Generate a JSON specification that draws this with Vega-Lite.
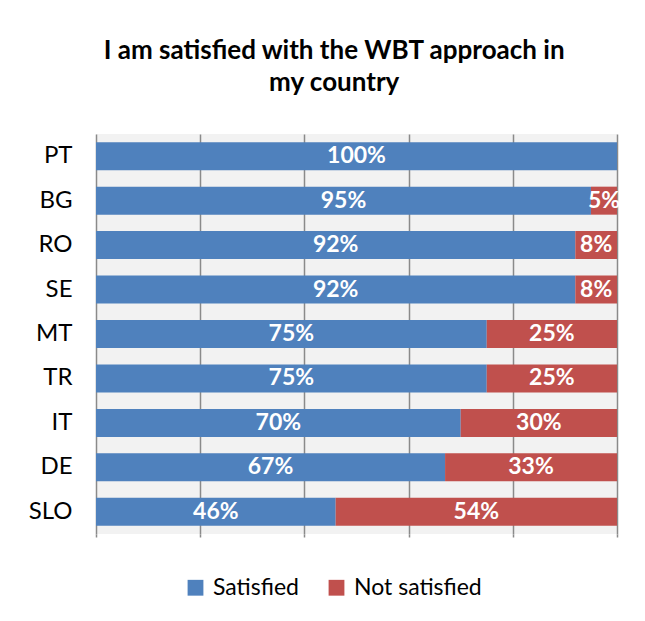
{
  "$schema": "https://vega.github.io/schema/vega-lite/v6.json",
  "width": 521,
  "height": 400,
  "autosize": {"type": "none"},
  "padding": {"left": 96, "top": 134, "right": 28, "bottom": 87},
  "background": "white",
  "title": {
    "text": ["I am satisfied with the WBT approach in", "my country"],
    "font": "Lato",
    "fontSize": 26,
    "fontWeight": "bold",
    "color": "black",
    "lineHeight": 32,
    "anchor": "middle",
    "frame": "bounds",
    "offset": 38,
    "dx": 10
  },
  "data": {
    "values": [
      {"country": "PT", "response": "Satisfied", "ord": 1, "value": 1.00},
      {"country": "PT", "response": "Not satisfied", "ord": 2, "value": 0},
      {"country": "BG", "response": "Satisfied", "ord": 1, "value": 0.95},
      {"country": "BG", "response": "Not satisfied", "ord": 2, "value": 0.05},
      {"country": "RO", "response": "Satisfied", "ord": 1, "value": 0.92},
      {"country": "RO", "response": "Not satisfied", "ord": 2, "value": 0.08},
      {"country": "SE", "response": "Satisfied", "ord": 1, "value": 0.92},
      {"country": "SE", "response": "Not satisfied", "ord": 2, "value": 0.08},
      {"country": "MT", "response": "Satisfied", "ord": 1, "value": 0.75},
      {"country": "MT", "response": "Not satisfied", "ord": 2, "value": 0.25},
      {"country": "TR", "response": "Satisfied", "ord": 1, "value": 0.75},
      {"country": "TR", "response": "Not satisfied", "ord": 2, "value": 0.25},
      {"country": "IT", "response": "Satisfied", "ord": 1, "value": 0.70},
      {"country": "IT", "response": "Not satisfied", "ord": 2, "value": 0.30},
      {"country": "DE", "response": "Satisfied", "ord": 1, "value": 0.67},
      {"country": "DE", "response": "Not satisfied", "ord": 2, "value": 0.33},
      {"country": "SLO", "response": "Satisfied", "ord": 1, "value": 0.46},
      {"country": "SLO", "response": "Not satisfied", "ord": 2, "value": 0.54}
    ]
  },
  "transform": [
    {"stack": "value", "groupby": ["country"], "sort": [{"field": "ord", "order": "ascending"}], "as": ["x0", "x1"]},
    {"calculate": "(datum.x0 + datum.x1) / 2", "as": "xmid"}
  ],
  "encoding": {
    "y": {
      "field": "country",
      "type": "nominal",
      "sort": ["PT", "BG", "RO", "SE", "MT", "TR", "IT", "DE", "SLO"],
      "scale": {"paddingInner": 0.37, "paddingOuter": 0.185},
      "axis": {
        "title": null,
        "labelFont": "Lato",
        "labelFontSize": 24,
        "labelColor": "black",
        "labelPadding": 24,
        "ticks": false,
        "domain": false
      }
    }
  },
  "layer": [
    {
      "mark": {"type": "bar"},
      "encoding": {
        "x": {
          "field": "x0",
          "type": "quantitative",
          "scale": {"domain": [0, 1], "nice": false},
          "axis": {
            "title": null,
            "labels": false,
            "domain": false,
            "values": [0, 0.2, 0.4, 0.6, 0.8, 1],
            "grid": true,
            "gridColor": "#8a8a8a",
            "gridWidth": 1.5,
            "ticks": true,
            "tickColor": "#8a8a8a",
            "tickWidth": 1.5,
            "tickSize": 3
          }
        },
        "x2": {"field": "x1"},
        "color": {
          "field": "response",
          "type": "nominal",
          "sort": ["Satisfied", "Not satisfied"],
          "scale": {"domain": ["Satisfied", "Not satisfied"], "range": ["#4f81bd", "#c0504d"]},
          "legend": {
            "title": null,
            "orient": "none",
            "direction": "horizontal",
            "legendX": 88,
            "legendY": 442,
            "symbolType": "square",
            "symbolSize": 250,
            "symbolStrokeWidth": 0,
            "symbolOpacity": 1,
            "labelFont": "Lato",
            "labelFontSize": 23,
            "labelColor": "black",
            "labelOffset": 6,
            "columnPadding": 26
          }
        }
      }
    },
    {
      "transform": [{"filter": "datum.value > 0"}],
      "mark": {"type": "text", "font": "Lato", "fontSize": 23, "fontWeight": "bold", "color": "white", "baseline": "middle", "align": "center"},
      "encoding": {
        "x": {"field": "xmid", "type": "quantitative"},
        "text": {"field": "value", "type": "quantitative", "format": ".0%"},
        "detail": {"field": "response"}
      }
    }
  ],
  "config": {
    "view": {"fill": "#f2f2f2", "stroke": null}
  }
}
